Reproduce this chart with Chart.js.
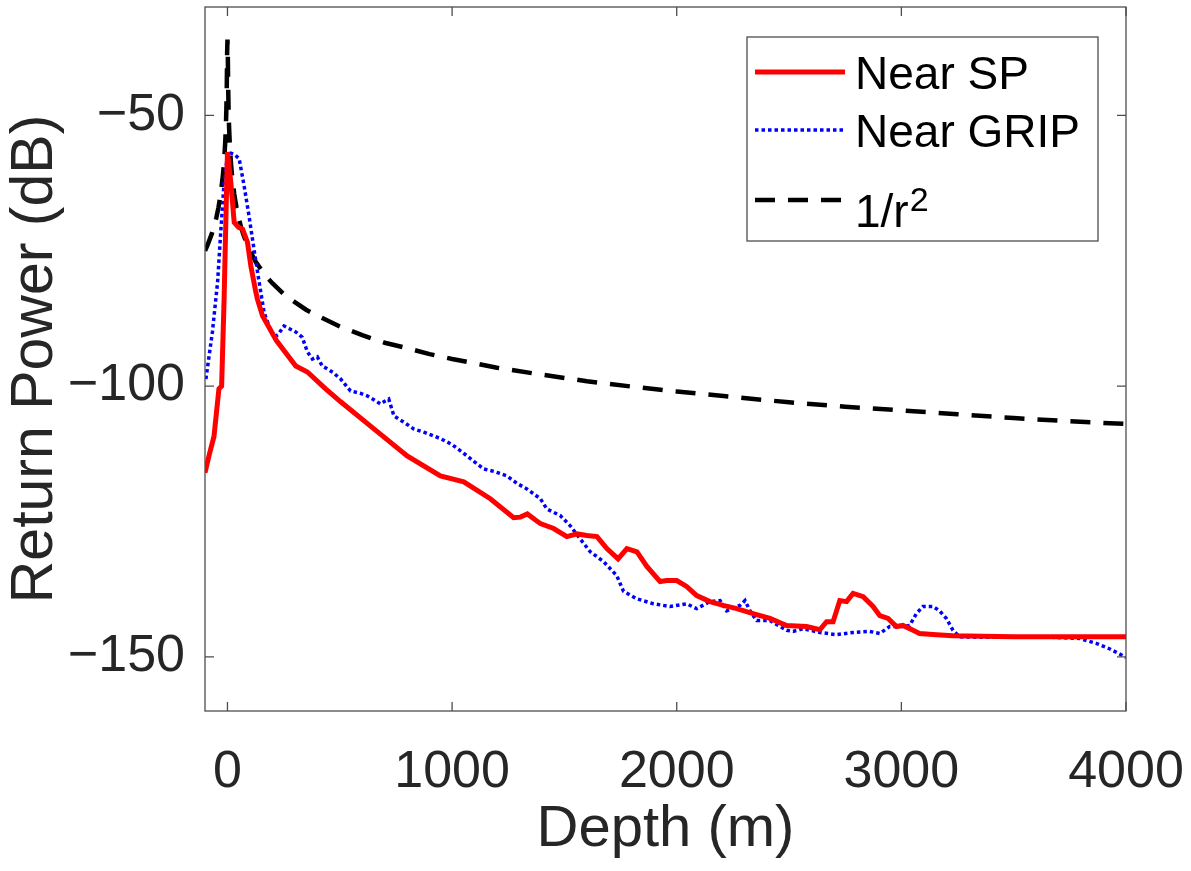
<!DOCTYPE html>
<html>
<head>
<meta charset="utf-8">
<script src="https://cdn.jsdelivr.net/npm/chart.js@4.4.1/dist/chart.umd.min.js"></script>
<style>
  html, body { margin: 0; padding: 0; background: #fff; }
  #wrap { width: 1191px; height: 871px; }
</style>
</head>
<body>
<div id="wrap"><canvas id="powerChart" width="1191" height="871"></canvas></div>
<script>
// Near SP (red, solid)
let spDepth = [-100, -80, -60, -38, -26, -15, -5, 0, 15, 30, 50, 67, 89, 104, 126, 133, 156, 218, 304, 356, 437, 504, 652, 800, 948, 1052, 1170, 1274, 1304, 1335, 1393, 1452, 1511, 1556, 1600, 1645, 1689, 1739, 1778, 1823, 1867, 1926, 1956, 2000, 2044, 2089, 2148, 2207, 2267, 2340, 2415, 2489, 2578, 2637, 2667, 2696, 2726, 2756, 2785, 2830, 2874, 2904, 2941, 2978, 3007, 3052, 3081, 3156, 3230, 3500, 3800, 4000];
let spPower = [-116, -112.5, -109.3, -100.5, -100, -84, -65.5, -56.8, -62.4, -69.8, -70.7, -71, -73.4, -77.8, -82.6, -83.9, -87, -91.6, -96.3, -97.4, -100.5, -102.9, -107.9, -112.9, -116.6, -117.7, -120.8, -124.3, -124.2, -123.6, -125.4, -126.3, -127.8, -127.3, -127.6, -127.8, -130, -131.9, -130, -130.6, -133.3, -136.1, -135.9, -135.9, -137, -138.7, -139.8, -140.5, -141.1, -142, -142.9, -144.2, -144.4, -145, -143.5, -143.5, -139.6, -139.8, -138.3, -138.9, -140.7, -142.4, -142.9, -144.4, -144.2, -145.1, -145.7, -145.9, -146.1, -146.3, -146.3, -146.3];

// Near GRIP (blue, dotted)
let gripDepth = [-96, -67, -44, -30, -15, 0, 15, 30, 52, 74, 96, 118, 141, 163, 190, 207, 225, 252, 280, 304, 333, 356, 378, 400, 422, 444, 470, 504, 548, 590, 622, 655, 681, 700, 718, 741, 790, 829, 880, 948, 1000, 1067, 1100, 1141, 1190, 1244, 1290, 1333, 1363, 1393, 1422, 1481, 1526, 1570, 1615, 1674, 1733, 1763, 1823, 1896, 1970, 2044, 2089, 2148, 2193, 2222, 2281, 2304, 2326, 2356, 2415, 2489, 2518, 2563, 2637, 2711, 2785, 2859, 2904, 2948, 3007, 3037, 3067, 3096, 3141, 3170, 3200, 3230, 3259, 3378, 3526, 3674, 3793, 3867, 3926, 4000];
let gripPower = [-98.7, -90, -80.8, -71.6, -62.4, -57.5, -57, -57.2, -58, -63, -68.6, -74.7, -80.8, -86.4, -89.5, -91, -90.5, -88.9, -89.5, -90, -91, -93.7, -95, -94.6, -96.3, -96.8, -97.5, -98.7, -100.9, -101.3, -101.8, -102.6, -103.3, -102.8, -102.4, -105.5, -106.8, -107.9, -108.6, -109.7, -110.8, -112.9, -114, -115.3, -115.8, -116.6, -118, -119, -119.9, -120.8, -122.7, -123.9, -125.8, -128.2, -130.6, -132.4, -135, -137.9, -139.3, -140.2, -140.7, -140.2, -141.1, -139.8, -139.6, -141.5, -140.5, -139.6, -141.5, -143.3, -143.3, -145.1, -145.3, -144.8, -145.5, -145.9, -145.5, -145.3, -145.7, -144.4, -144.4, -144.2, -142, -140.7, -140.7, -141.5, -142.9, -145.1, -146.3, -146.4, -146.4, -146.4, -146.6, -147.5, -148.5, -150.1];

// 1/r^2 reference (black, dashed)
let invDepth = [-100, -90, -80, -70, -60, -50, -40, -30, -20, -15, -10, -7, -5, -3, -1.5, 0, 1.5, 3, 5, 7, 10, 15, 20, 30, 40, 50, 60, 70, 80, 90, 100, 125, 150, 175, 200, 250, 300, 350, 400, 500, 600, 700, 800, 900, 1000, 1200, 1400, 1600, 1800, 2000, 2250, 2500, 2750, 3000, 3250, 3500, 3750, 4000];
let invPower = [-75, -74.1, -73, -71.9, -70.6, -69, -67, -64.5, -61, -58.5, -55, -52, -49, -44.5, -38.5, -36, -38.5, -44.5, -49, -52, -55, -58.5, -61, -64.5, -67, -69, -70.6, -71.9, -73, -74.1, -75, -77, -78.5, -79.9, -81, -83, -84.5, -85.9, -87, -89, -90.6, -92, -93, -94.1, -95, -96.6, -97.9, -99.1, -100.1, -101, -102, -103, -103.8, -104.5, -105.2, -105.9, -106.5, -107];

let seriesNames = ["Near SP", "Near GRIP", "1/r"];
let xTicks = [0, 1000, 2000, 3000, 4000];
let yTicks = [-150, -100, -50];

function toPoints(xs, ys) {
    return xs.map((x, i) => ({ x: x, y: ys[i] }));
}

const FONT = "'Liberation Sans', Arial, Helvetica, sans-serif";
const AXIS_COLOR = "#262626";

// MATLAB style box with inward ticks on all four sides
const boxPlugin = {
    id: "box",
    afterDraw(chart) {
        const ctx = chart.ctx;
        const a = chart.chartArea;
        const xs = chart.scales.x, ys = chart.scales.y;
        const tl = 9;
        ctx.save();
        ctx.strokeStyle = "#4d4d4d";
        ctx.lineWidth = 1.3;
        ctx.strokeRect(a.left, a.top, a.right - a.left, a.bottom - a.top);
        ctx.beginPath();
        xTicks.forEach(v => {
            const px = xs.getPixelForValue(v);
            ctx.moveTo(px, a.bottom); ctx.lineTo(px, a.bottom - tl);
            ctx.moveTo(px, a.top); ctx.lineTo(px, a.top + tl);
        });
        yTicks.forEach(v => {
            const py = ys.getPixelForValue(v);
            ctx.moveTo(a.left, py); ctx.lineTo(a.left + tl, py);
            ctx.moveTo(a.right, py); ctx.lineTo(a.right - tl, py);
        });
        ctx.stroke();
        ctx.restore();
    }
};

// legend box in the upper right, drawn from the dataset styles
const legendPlugin = {
    id: "boxLegend",
    afterDraw(chart) {
        const ctx = chart.ctx;
        const bx = 747, by = 37, bw = 351, bh = 204;
        const rows = [72, 130, 200];
        ctx.save();
        ctx.fillStyle = "#fff";
        ctx.fillRect(bx, by, bw, bh);
        ctx.strokeStyle = "#4d4d4d";
        ctx.lineWidth = 1.3;
        ctx.strokeRect(bx, by, bw, bh);
        chart.data.datasets.forEach((ds, i) => {
            const y = rows[i];
            ctx.beginPath();
            ctx.strokeStyle = ds.borderColor;
            ctx.lineWidth = ds.borderWidth;
            ctx.setLineDash(ds.borderDash || []);
            ctx.moveTo(755, y);
            ctx.lineTo(845, y);
            ctx.stroke();
            ctx.setLineDash([]);
            ctx.fillStyle = "#000";
            ctx.textBaseline = "alphabetic";
            ctx.textAlign = "left";
            ctx.font = "46px " + FONT;
            const base = i === 2 ? 227 : y + 17;
            ctx.fillText(ds.label, 855, base);
            if (i === 2) {
                const w = ctx.measureText(ds.label).width;
                ctx.font = "34px " + FONT;
                ctx.fillText("2", 855 + w + 1, 211);
            }
        });
        ctx.restore();
    }
};

new Chart(document.getElementById("powerChart"), {
    type: "line",
    data: {
        datasets: [
            {
                label: seriesNames[0],
                data: toPoints(spDepth, spPower),
                borderColor: "#ff0000",
                borderWidth: 5,
                pointRadius: 0,
                tension: 0,
                fill: false
            },
            {
                label: seriesNames[1],
                data: toPoints(gripDepth, gripPower),
                borderColor: "#0000ff",
                borderWidth: 3.5,
                borderDash: [3.5, 3],
                pointRadius: 0,
                tension: 0,
                fill: false
            },
            {
                label: seriesNames[2],
                data: toPoints(invDepth, invPower),
                borderColor: "#000000",
                borderWidth: 4.5,
                borderDash: [20, 13],
                pointRadius: 0,
                tension: 0,
                fill: false
            }
        ]
    },
    options: {
        responsive: false,
        animation: false,
        layout: { padding: { top: 7, right: 65, left: 0, bottom: 0 } },
        plugins: {
            legend: { display: false },
            tooltip: { enabled: false }
        },
        scales: {
            x: {
                type: "linear",
                min: -100,
                max: 4000,
                afterBuildTicks: s => { s.ticks = xTicks.map(v => ({ value: v })); },
                afterFit: s => { s.height = 160; s.paddingLeft = 0; s.paddingRight = 0; },
                grid: { display: false, drawTicks: false },
                border: { display: false },
                ticks: {
                    padding: 30,
                    color: AXIS_COLOR,
                    font: { family: FONT, size: 52 },
                    maxRotation: 0,
                    autoSkip: false,
                    callback: v => String(v)
                },
                title: {
                    display: true,
                    text: "Depth (m)",
                    color: AXIS_COLOR,
                    font: { family: FONT, size: 58 },
                    padding: { top: 0, bottom: 6 }
                }
            },
            y: {
                type: "linear",
                min: -160,
                max: -30,
                afterBuildTicks: s => { s.ticks = yTicks.map(v => ({ value: v })); },
                afterFit: s => { s.width = 205; s.paddingTop = 0; s.paddingBottom = 0; },
                grid: { display: false, drawTicks: false },
                border: { display: false },
                ticks: {
                    padding: 20,
                    color: AXIS_COLOR,
                    font: { family: FONT, size: 52 },
                    autoSkip: false,
                    callback: v => String(v).replace("-", "\u2212")
                },
                title: {
                    display: true,
                    text: "Return Power (dB)",
                    color: AXIS_COLOR,
                    font: { family: FONT, size: 59 },
                    padding: { top: 0, bottom: 0 }
                }
            }
        }
    },
    plugins: [boxPlugin, legendPlugin]
});
</script>
</body>
</html>
